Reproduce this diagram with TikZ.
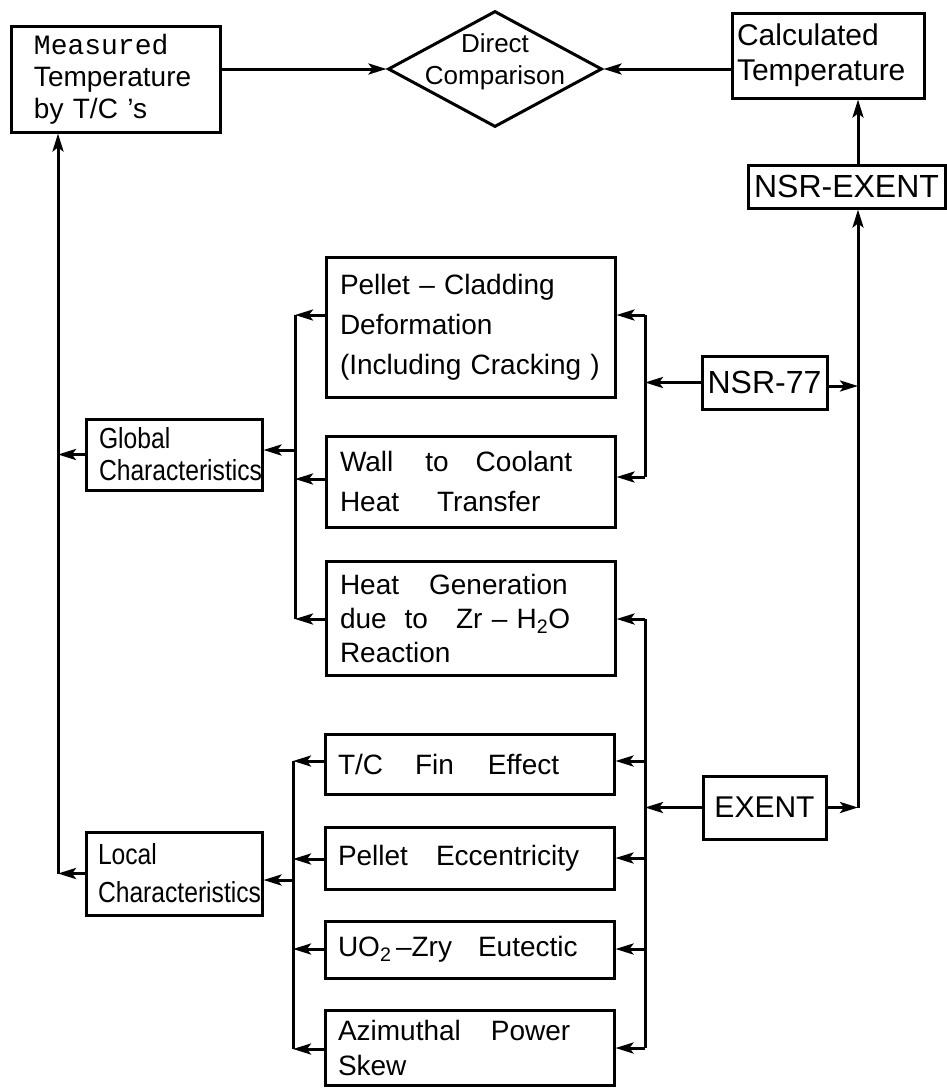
\documentclass[tikz,border=0pt]{standalone}
\usepackage{fontspec}
\setmainfont{Liberation Sans}
\newfontfamily\cndfont[FakeStretch=0.85]{Liberation Sans}
\newfontfamily\monofont{Liberation Mono}
\usetikzlibrary{shapes.geometric,arrows.meta}
\newcommand{\fs}[2]{\fontsize{#1}{#2}\selectfont}
\begin{document}
\begin{tikzpicture}[x=1pt,y=-1pt,
  box/.style={draw, line width=3pt, rectangle, inner sep=0pt, align=left},
  cbox/.style={draw, line width=3pt, rectangle, inner sep=0pt, align=center},
  arr/.style={line width=3pt, -{Stealth[length=18pt,width=11pt,inset=4pt]}},
  ln/.style={line width=3pt}]
\useasboundingbox (0,0) rectangle (947,1088);

% top row
\node[box, minimum width=209pt, minimum height=106pt, text width=163pt, font=\fs{28}{32}] (meas) at (115.5,79)
  {{\monofont Measured}\\Temperature\\by T/C 's};
\node[diamond, draw, line width=3pt, minimum width=214pt, minimum height=116pt, inner sep=0pt] (cmp) at (495,69) {};
\node[align=center, inner sep=0pt, font=\fs{26}{32}] (cmptxt) at ([yshift=7pt]cmp.center) {Direct\\Comparison};
\node[box, minimum width=192pt, minimum height=85pt, text width=182pt, font=\fs{30}{35}] (calc) at (828,55.5)
  {Calculated\\Temperature};
\node[cbox, minimum width=197pt, minimum height=43pt, font=\fs{32}{35}] (nsrx) at (846.5,186.5) {NSR-EXENT};

% global group
\node[box, minimum width=289pt, minimum height=140pt, text width=261pt, font=\fs{28}{40}] (pc) at (470.5,327)
  {Pellet -- Cladding\\Deformation\\(Including Cracking )};
\node[box, minimum width=289pt, minimum height=91pt, text width=261pt, font=\fs{28}{40}] (wall) at (470.5,481.5)
  {Wall\hspace{32pt}to\hspace{27pt}Coolant\\Heat\hspace{38pt}Transfer};
\node[box, minimum width=289pt, minimum height=114pt, text width=261pt, font=\fs{28}{34}] (hg) at (470.5,618)
  {Heat\hspace{30pt}Generation\\due\hspace{18pt}to\hspace{28pt}Zr -- H\textsubscript{2}O\\Reaction};
\node[box, minimum width=176pt, minimum height=71pt, text width=150pt, font=\fs{29}{32}] (glob) at (174,454.5)
  {{\cndfont Global}\\{\cndfont Characteristics}};

% local group
\node[box, minimum width=289pt, minimum height=60pt, text width=263pt, font=\fs{28}{34}] (tc) at (469.5,764)
  {T/C\hspace{32pt}Fin\hspace{34pt}Effect};
\node[box, minimum width=289pt, minimum height=62pt, text width=263pt, font=\fs{28}{34}] (pe) at (469.5,858)
  {Pellet\hspace{28pt}Eccentricity};
\node[box, minimum width=289pt, minimum height=57pt, text width=263pt, font=\fs{28}{34}] (uo) at (469.5,949.5)
  {UO\textsubscript{2}\,--Zry\hspace{26pt}Eutectic};
\node[box, minimum width=289pt, minimum height=75pt, text width=263pt, font=\fs{28}{35}] (az) at (469.5,1047.5)
  {Azimuthal\hspace{30pt}Power\\Skew};
\node[box, minimum width=176pt, minimum height=83pt, text width=152pt, font=\fs{29}{38}] (loc) at (174,873.5)
  {{\cndfont Local}\\{\cndfont Characteristics}};

% codes
\node[cbox, minimum width=125pt, minimum height=53pt, font=\fs{32}{35}] (nsr) at (764.5,382.5) {NSR-77};
\node[cbox, minimum width=123pt, minimum height=63pt, font=\fs{30}{35}] (exent) at (764.5,807.5) {EXENT};

% junction coordinates
\coordinate (mb) at (58,873);
\coordinate (gb1) at (295,315);
\coordinate (gb2) at (295,479);
\coordinate (gb3) at (295,619);
\coordinate (gbj) at (295,450);
\coordinate (lb1) at (293,761);
\coordinate (lb2) at (293,859);
\coordinate (lb3) at (293,949);
\coordinate (lb4) at (293,1049);
\coordinate (lbj) at (293,880);
\coordinate (nb1) at (645,315);
\coordinate (nb2) at (645,477);
\coordinate (eb1) at (645,619);
\coordinate (eb2) at (645,761);
\coordinate (eb3) at (645,858);
\coordinate (eb4) at (645,949);
\coordinate (eb5) at (645,1048);
\coordinate (rb) at (858,386);

% top connections
\draw[arr] (meas.east |- cmp.west) -- (cmp.west);
\draw[arr] (calc.west |- cmp.east) -- (cmp.east);
\draw[arr] (nsrx.north -| rb) -- (calc.south -| rb);
\draw[arr] (exent.east -| rb) -- (nsrx.south -| rb);
\draw[arr] (nsr.east |- rb) -- (rb);
\draw[arr] (exent.east) -- (exent.east -| rb);

% NSR-77 bus
\draw[arr] (nsr.west) -- (nsr.west -| nb1);
\draw[ln] (nb1) -- (nb2);
\draw[arr] (nb1) -- (nb1 -| pc.east);
\draw[arr] (nb2) -- (nb2 -| wall.east);

% EXENT bus
\draw[arr] (exent.west) -- (exent.west -| eb1);
\draw[ln] (eb1) -- (eb5);
\draw[arr] (eb1) -- (eb1 -| hg.east);
\draw[arr] (eb2) -- (eb2 -| tc.east);
\draw[arr] (eb3) -- (eb3 -| pe.east);
\draw[arr] (eb4) -- (eb4 -| uo.east);
\draw[arr] (eb5) -- (eb5 -| az.east);

% global bus
\draw[ln] (gb1) -- (gb3);
\draw[arr] (gb1 -| pc.west) -- (gb1);
\draw[arr] (gb2 -| wall.west) -- (gb2);
\draw[arr] (gb3 -| hg.west) -- (gb3);
\draw[arr] (gbj) -- (gbj -| glob.east);

% local bus
\draw[ln] (lb1) -- (lb4);
\draw[arr] (lb1 -| tc.west) -- (lb1);
\draw[arr] (lb2 -| pe.west) -- (lb2);
\draw[arr] (lb3 -| uo.west) -- (lb3);
\draw[arr] (lb4 -| az.west) -- (lb4);
\draw[arr] (lbj) -- (lbj -| loc.east);

% main left bus
\draw[arr] (glob.west) -- (glob.west -| mb);
\draw[arr] (loc.west) -- (loc.west -| mb);
\draw[arr] (loc.west -| mb) -- (meas.south -| mb);
\end{tikzpicture}
\end{document}
